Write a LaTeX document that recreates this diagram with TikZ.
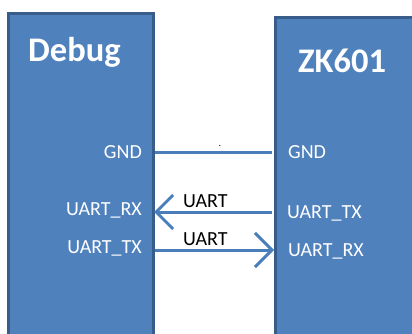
\documentclass[tikz,border=0pt]{standalone}
\usepackage{fontspec}
\setmainfont{Carlito}
\usetikzlibrary{arrows.meta}
\definecolor{boxfill}{HTML}{4F81BD}
\definecolor{boxedge}{HTML}{385D8A}
\definecolor{wire}{HTML}{4A7EBB}
\tikzset{
  chip/.style={fill=boxfill,draw=boxedge,line width=3pt},
  title/.style={font=\fontsize{34.5}{38}\selectfont\bfseries,text=white,inner sep=0pt},
  pin/.style={font=\fontsize{20}{22}\selectfont,text=white,inner sep=0pt},
  lbl/.style={font=\fontsize{20}{22}\selectfont,text=black,inner sep=0pt},
  wireline/.style={draw=wire,line width=3pt},
  barb/.style={-{Straight Barb[length=17pt,width=34pt,line width=3pt]}}
}
\begin{document}
\begin{tikzpicture}[x=1pt,y=-1pt]
\useasboundingbox (0,0) rectangle (412,334);
\begin{scope}
\clip (0,0) rectangle (412,334);
\draw[chip] (8,14) rectangle (153,345);
\draw[chip] (275,18) rectangle (425,345);
\end{scope}
\node[title,anchor=base west] (debug) at (28,62) {Debug};
\node[title,anchor=base west] (zk) at (298,73) {ZK601};
\node[pin,anchor=base east] (lgnd) at (142,158) {GND};
\node[pin,anchor=base east] (lrx) at (142,215) {UART\_RX};
\node[pin,anchor=base east] (ltx) at (142,253) {UART\_TX};
\node[pin,anchor=base west] (rgnd) at (288,158) {GND};
\node[pin,anchor=base west] (rtx) at (287,218) {UART\_TX};
\node[pin,anchor=base west] (rrx) at (288,256) {UART\_RX};
\coordinate (gA) at (155,152);
\coordinate (gB) at (272,152);
\coordinate (rA) at (272,212);
\coordinate (rB) at (154,212);
\coordinate (tA) at (155,250);
\coordinate (tB) at (274,250);
\draw[wireline] (gA) -- (gB);
\draw[wireline,barb] (rA) -- (rB);
\draw[wireline,barb] (tA) -- (tB);
\node[lbl,anchor=base west] (u1) at (183,207) {UART};
\node[lbl,anchor=base west] (u2) at (183,245) {UART};
\node[lbl,font=\fontsize{10}{12}\selectfont,inner sep=0pt] (dot) at (220,146) {.};
\end{tikzpicture}
\end{document}
